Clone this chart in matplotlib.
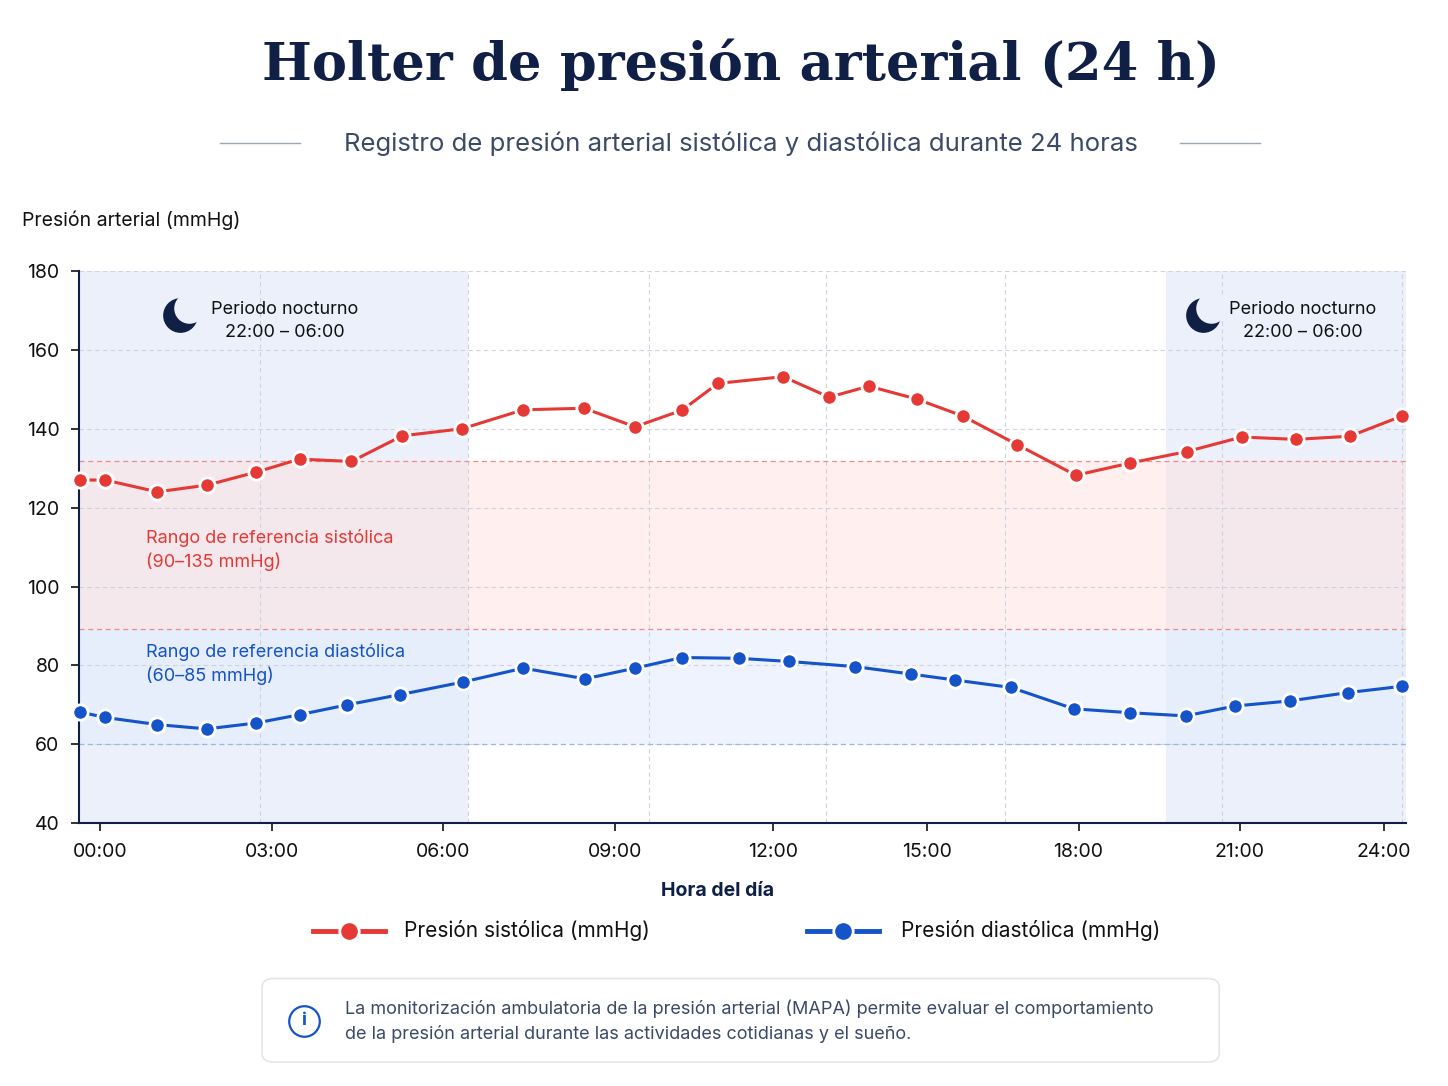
import matplotlib
matplotlib.use("Agg")
import matplotlib.pyplot as plt
from matplotlib.patches import FancyBboxPatch
from matplotlib.lines import Line2D
from matplotlib.transforms import offset_copy

sys_hours = [-0.39, 0.09, 1.06, 1.99, 2.91, 3.72, 4.69, 5.64, 6.76, 7.90, 9.04, 9.99, 10.87, 11.54, 12.76, 13.62, 14.36, 15.26, 16.12, 17.13, 18.23, 19.24, 20.30, 21.33, 22.34, 23.35, 24.32]
sys_vals = [127, 127, 124, 125.7, 129, 132.3, 131.7, 138.2, 140, 144.8, 145.2, 140.5, 144.7, 151.5, 153.2, 148, 150.8, 147.5, 143.2, 136, 128.2, 131.3, 134.2, 137.9, 137.3, 138.1, 143.2]
dia_hours = [-0.39, 0.09, 1.06, 1.99, 2.91, 3.72, 4.61, 5.60, 6.78, 7.90, 9.06, 9.99, 10.87, 11.93, 12.87, 14.10, 15.15, 15.97, 17.02, 18.19, 19.24, 20.28, 21.20, 22.23, 23.31, 24.32]
dia_vals = [68.2, 66.8, 65, 63.9, 65.4, 67.5, 70, 72.6, 75.8, 79.3, 76.6, 79.3, 82, 81.8, 81, 79.7, 77.8, 76.3, 74.4, 69, 68, 67.2, 69.7, 71, 73.1, 74.7]
xtick_pos = [0, 3.21, 6.41, 9.62, 12.57, 15.45, 18.28, 21.29, 23.99]
xtick_labels = ["00:00", "03:00", "06:00", "09:00", "12:00", "15:00", "18:00", "21:00", "24:00"]

NAVY = "#0f1f45"
RED = "#e53935"
BLUE = "#1453c8"
NIGHT_BG = "#ecf0fa"

plt.rcParams["font.family"] = ["Inter", "DejaVu Sans"]
fig = plt.figure(figsize=(14.48, 10.86), dpi=100)
fig.patch.set_facecolor("white")
ax = fig.add_axes([0.0546, 0.242, 0.9164, 0.5085])
x0, x1 = -0.4, 24.4
ax.set_xlim(x0, x1)
ax.set_ylim(40, 180)

ax.axvspan(x0, 6.87, color="#dfe6f8", alpha=0.6, lw=0, zorder=0)
ax.axvspan(19.92, x1, color="#dfe6f8", alpha=0.6, lw=0, zorder=0)
ax.axhspan(89.3, 131.8, color="#ffe3e3", alpha=0.55, lw=0, zorder=0.5)
ax.axhspan(60.2, 89.3, color="#e3ecfd", alpha=0.6, lw=0, zorder=0.5)
ax.axhline(131.8, color="#f08a8a", lw=0.9, ls=(0, (4, 3)), zorder=1)
ax.axhline(89.3, color="#f08a8a", lw=0.9, ls=(0, (4, 3)), zorder=1)
ax.axhline(60.2, color="#9fb5e8", lw=0.9, ls=(0, (4, 3)), zorder=1)

for y in range(60, 181, 20):
    ax.axhline(y, color="#cdd3df", lw=0.8, ls=(0, (4, 3)), zorder=0.8)
for xv in [2.99, 6.87, 10.25, 13.56, 16.9, 20.96, 24.32]:
    ax.axvline(xv, color="#cdd3df", lw=0.8, ls=(0, (4, 3)), zorder=0.8)

ax.plot(sys_hours, sys_vals, color=RED, lw=2.2, marker="o", ms=11, mfc=RED, mec="white", mew=2, zorder=5, clip_on=False)
ax.plot(dia_hours, dia_vals, color=BLUE, lw=2.2, marker="o", ms=11, mfc=BLUE, mec="white", mew=2, zorder=5, clip_on=False)

ax.set_xticks(xtick_pos)
ax.set_xticklabels(xtick_labels)
ax.set_yticks(range(40, 181, 20))
ax.tick_params(labelsize=14, colors="#111111", length=6, width=1.2, pad=8)
for s in ["top", "right"]:
    ax.spines[s].set_visible(False)
for s in ["left", "bottom"]:
    ax.spines[s].set_color(NAVY)
    ax.spines[s].set_linewidth(1.5)
ax.set_xlabel("Hora del día", fontsize=14, fontweight="bold", color=NAVY)
ax.xaxis.set_label_coords(0.4815, -0.107)

ax.text(0.86, 109.2, "Rango de referencia sistólica\n(90–135 mmHg)", color=RED, fontsize=13, va="center", linespacing=1.4)
ax.text(0.86, 80.3, "Rango de referencia diastólica\n(60–85 mmHg)", color=BLUE, fontsize=13, va="center", linespacing=1.4)

for mx, tx in [(1.49, 3.44), (20.6, 22.47)]:
    ax.plot([mx], [168.8], marker="o", ms=25, color=NAVY, mew=0, zorder=6)
    tr = offset_copy(ax.transData, fig=fig, x=6, y=5, units="points")
    ax.plot([mx], [168.8], marker="o", ms=22, color=NIGHT_BG, mew=0, zorder=7, transform=tr)
    ax.text(tx, 167.3, "Periodo nocturno\n22:00 – 06:00", fontsize=13, color="#111111", ha="center", va="center", linespacing=1.5, zorder=6)

fig.text(0.015, 0.797, "Presión arterial (mmHg)", fontsize=14, color="#111111", va="center")

fig.text(0.512, 0.94, "Holter de presión arterial (24 h)", fontsize=38, fontweight="bold", family="DejaVu Serif", color=NAVY, ha="center", va="center")
fig.text(0.512, 0.868, "Registro de presión arterial sistólica y diastólica durante 24 horas", fontsize=18.5, color="#3b4a66", ha="center", va="center")
fig.add_artist(Line2D([0.152, 0.207], [0.868, 0.868], color="#9aa5b8", lw=1))
fig.add_artist(Line2D([0.815, 0.870], [0.868, 0.868], color="#9aa5b8", lw=1))

ly = 0.143
fig.add_artist(Line2D([0.216, 0.266], [ly, ly], color=RED, lw=3.5))
fig.add_artist(Line2D([0.241], [ly], marker="o", ms=14, color=RED, mec="white", mew=2))
fig.text(0.279, ly, "Presión sistólica (mmHg)", fontsize=15, color="#111111", va="center")
fig.add_artist(Line2D([0.557, 0.607], [ly, ly], color=BLUE, lw=3.5))
fig.add_artist(Line2D([0.582], [ly], marker="o", ms=14, color=BLUE, mec="white", mew=2))
fig.text(0.622, ly, "Presión diastólica (mmHg)", fontsize=15, color="#111111", va="center")

box = FancyBboxPatch((0.181, 0.022), 0.661, 0.077, boxstyle="round,pad=0,rounding_size=0.008",
                     transform=fig.transFigure, fc="white", ec="#e3e6ec", lw=1.2)
fig.add_artist(box)
fig.add_artist(Line2D([0.21], [0.06], marker="o", ms=22, mfc="white", mec=BLUE, mew=1.6))
fig.text(0.21, 0.06, "i", fontsize=13, color=BLUE, ha="center", va="center", fontweight="bold")
fig.text(0.238, 0.06, "La monitorización ambulatoria de la presión arterial (MAPA) permite evaluar el comportamiento\nde la presión arterial durante las actividades cotidianas y el sueño.",
         fontsize=13, color="#3b4a66", va="center", linespacing=1.5)

fig.savefig("out.png", dpi=100, facecolor="white")
